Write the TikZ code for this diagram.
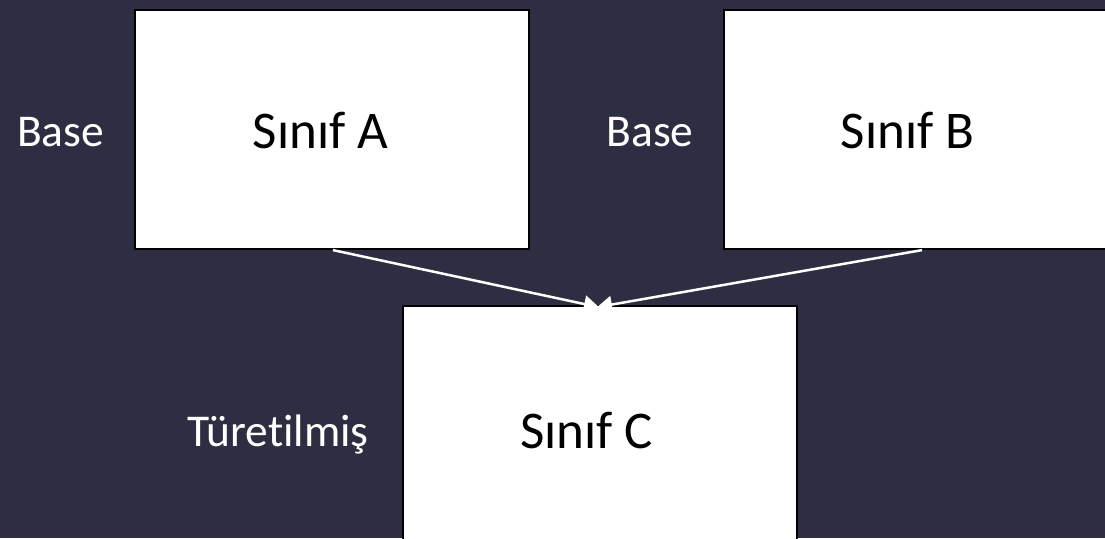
\documentclass[tikz,border=0pt]{standalone}
\usepackage{fontspec}
\setmainfont{Carlito}[Ligatures={NoCommon,NoRare}]
\usetikzlibrary{arrows.meta}
\definecolor{bgnavy}{RGB}{46,46,66}
\tikzset{
  classbox/.style={draw=black, fill=white, line width=2.2pt, rectangle, inner sep=0pt},
  classname/.style={font=\fontsize{53}{60}\selectfont, text=black, anchor=base, inner sep=0pt},
  rolename/.style={font=\fontsize{45.5}{52}\selectfont, text=white, anchor=base, inner sep=0pt},
  inherit/.style={draw=white, line width=2.5pt, -{Triangle[length=15pt,width=17pt]}, shorten >=-1pt}
}
\begin{document}
\begin{tikzpicture}[x=1pt,y=-1pt]
  % canvas
  \fill[bgnavy] (0,0) rectangle (1105,538);
  \useasboundingbox (0,0) rectangle (1105,538);

  % class boxes
  \node[classbox, minimum width=394pt, minimum height=239pt] (A) at (332,129.5) {};
  \node[classbox, minimum width=396pt, minimum height=239pt] (B) at (922,129.5) {};
  \node[classbox, minimum width=394pt, minimum height=239pt] (C) at (600,425.5) {};

  % class names
  \node[classname] (nameA) at (320.5,148) {Sınıf A};
  \node[classname] (nameB) at (907.5,148) {Sınıf B};
  \node[classname] (nameC) at (586.5,448) {Sınıf C};

  % role labels
  \node[rolename] (roleA) at (60.5,146) {Base};
  \node[rolename] (roleB) at (650,146) {Base};
  \node[rolename] (roleC) at (278,446) {Türetilmiş};

  % inheritance arrows
  \coordinate (tip) at (598,307);
  \draw[inherit] (A.south) ++(1,0) coordinate (fromA) (fromA) -- (tip);
  \draw[inherit] (B.south) coordinate (fromB) (fromB) -- (tip);
\end{tikzpicture}
\end{document}
